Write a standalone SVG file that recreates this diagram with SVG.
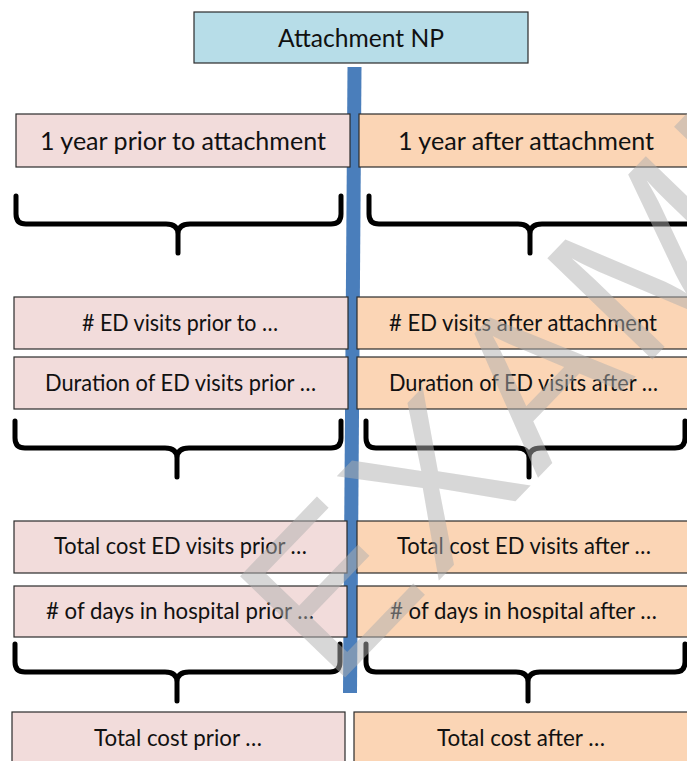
<svg xmlns="http://www.w3.org/2000/svg" width="687" height="761" viewBox="0 0 687 761">
<style>
.box{stroke:#2b2b2b;stroke-width:1.2}
.np{fill:#b7dde8}
.pre{fill:#f2dcdb}
.post{fill:#fbd5b5}
.t{font-family:Lato,"Open Sans","Liberation Sans",sans-serif;fill:#111;text-anchor:middle}
.big{font-size:25px}
.sm{font-size:23px}
.brace{fill:none;stroke:#000;stroke-width:5;stroke-linecap:round;stroke-linejoin:round}
.wm{font-family:"Liberation Sans",Arial,sans-serif;font-size:212px;letter-spacing:6px;fill:#b0b0b0;fill-opacity:0.5}
</style>
<g id="connectors">
<line x1="354.5" y1="67" x2="350" y2="693" stroke="#4a7ebb" stroke-width="14"/>
<path class="brace" d="M16,196 V214 Q16,224 26,224 H166 Q178,224 178,234 V253 M178,234 Q178,224 190,224 H331 Q341,224 341,214 V196"/>
<path class="brace" d="M369,196 V214 Q369,224 379,224 H518 Q530,224 530,234 V253 M530,234 Q530,224 542,224 H697"/>
<path class="brace" d="M15,421 V438 Q15,448 25,448 H165 Q177,448 177,458 V477 M177,458 Q177,448 189,448 H331 Q341,448 341,438 V421"/>
<path class="brace" d="M366,421 V438 Q366,448 376,448 H517 Q529,448 529,458 V477 M529,458 Q529,448 541,448 H675 Q685,448 685,438 V421"/>
<path class="brace" d="M15,644 V662 Q15,672 25,672 H165 Q177,672 177,682 V701 M177,682 Q177,672 189,672 H330 Q340,672 340,662 V644"/>
<path class="brace" d="M366,644 V662 Q366,672 376,672 H516 Q528,672 528,682 V701 M528,682 Q528,672 540,672 H675 Q685,672 685,662 V644"/>
</g>
<g id="attachment-np">
<rect class="box np" x="194" y="12" width="334" height="51"/>
<text class="t big" x="361" y="47" textLength="166" lengthAdjust="spacingAndGlyphs">Attachment NP</text>
</g>
<g id="prior-year">
<rect class="box pre" x="16" y="114" width="334" height="53"/>
<text class="t big" x="183" y="150" textLength="286" lengthAdjust="spacingAndGlyphs">1 year prior to attachment</text>
</g>
<g id="after-year">
<rect class="box post" x="359" y="114" width="340" height="53"/>
<text class="t big" x="526" y="150" textLength="256" lengthAdjust="spacingAndGlyphs">1 year after attachment</text>
</g>
<g id="ed-visits-prior">
<rect class="box pre" x="14" y="297" width="334" height="52"/>
<text class="t sm" x="180" y="331" textLength="196" lengthAdjust="spacingAndGlyphs"># ED visits prior to …</text>
</g>
<g id="ed-visits-after">
<rect class="box post" x="357" y="297" width="340" height="52"/>
<text class="t sm" x="523" y="331" textLength="268" lengthAdjust="spacingAndGlyphs"># ED visits after attachment</text>
</g>
<g id="duration-prior">
<rect class="box pre" x="14" y="357" width="334" height="52"/>
<text class="t sm" x="180.5" y="391" textLength="271" lengthAdjust="spacingAndGlyphs">Duration of ED visits prior …</text>
</g>
<g id="duration-after">
<rect class="box post" x="357" y="357" width="340" height="52"/>
<text class="t sm" x="523.5" y="391" textLength="269" lengthAdjust="spacingAndGlyphs">Duration of ED visits after …</text>
</g>
<g id="cost-ed-prior">
<rect class="box pre" x="14" y="521" width="333" height="52"/>
<text class="t sm" x="180.5" y="554" textLength="253" lengthAdjust="spacingAndGlyphs">Total cost ED visits prior …</text>
</g>
<g id="cost-ed-after">
<rect class="box post" x="357" y="521" width="340" height="52"/>
<text class="t sm" x="524" y="554" textLength="254" lengthAdjust="spacingAndGlyphs">Total cost ED visits after …</text>
</g>
<g id="days-prior">
<rect class="box pre" x="14" y="586" width="333" height="51"/>
<text class="t sm" x="180" y="619" textLength="268" lengthAdjust="spacingAndGlyphs"># of days in hospital prior …</text>
</g>
<g id="days-after">
<rect class="box post" x="357" y="586" width="340" height="51"/>
<text class="t sm" x="523.5" y="619" textLength="267" lengthAdjust="spacingAndGlyphs"># of days in hospital after …</text>
</g>
<g id="total-prior">
<rect class="box pre" x="12" y="712" width="333" height="60"/>
<text class="t sm" x="178" y="746" textLength="168" lengthAdjust="spacingAndGlyphs">Total cost prior …</text>
</g>
<g id="total-after">
<rect class="box post" x="354" y="712" width="345" height="60"/>
<text class="t sm" x="521" y="746" textLength="168" lengthAdjust="spacingAndGlyphs">Total cost after …</text>
</g>
<text class="wm" transform="translate(333,690) rotate(-46)">EXAMPLE</text>
</svg>
